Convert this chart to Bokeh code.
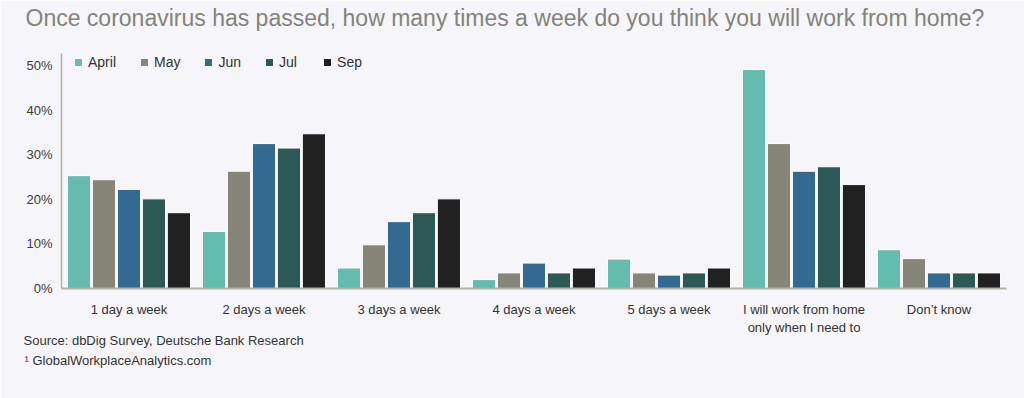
from bokeh.plotting import figure
from bokeh.models import (ColumnDataSource, Legend, LegendItem, Title, Range1d,
                          FixedTicker, PrintfTickFormatter, FactorRange, CategoricalAxis,
                          CustomJSTickFormatter)
from bokeh.transform import dodge
from bokeh.embed import file_html
from bokeh.resources import INLINE

categories = ["1 day a week", "2 days a week", "3 days a week", "4 days a week",
              "5 days a week", "I will work from home only when I need to", "Don\u2019t know"]
series_names = ["April", "May", "Jun", "Jul", "Sep"]
april = [25.3, 12.8, 4.6, 2.0, 6.6, 49.1, 8.7]
may = [24.4, 26.3, 9.8, 3.5, 3.5, 32.5, 6.7]
jun = [22.2, 32.5, 15.0, 5.7, 3.0, 26.3, 3.5]
jul = [20.1, 31.5, 17.0, 3.5, 3.5, 27.3, 3.5]
sep = [17.0, 34.7, 20.1, 4.6, 4.6, 23.3, 3.5]
colors = ["#65bcae", "#878578", "#346a92", "#2c5856", "#222122"]
y_ticks = [0, 10, 20, 30, 40, 50]
# tick labels: first line / second line for each category
label_line1 = ["1 day a week", "2 days a week", "3 days a week", "4 days a week",
               "5 days a week", "I will work from home", "Don\u2019t know"]
label_line2 = ["", "", "", "", "", "only when I need to", ""]

BG = "#f6f5f9"
FONT = "Liberation Sans"

src = ColumnDataSource(dict(cat=categories, April=april, May=may, Jun=jun, Jul=jul, Sep=sep))

p = figure(width=1024, height=398, x_range=FactorRange(*categories, range_padding=0),
           y_range=Range1d(0, 52.7), output_backend="svg", toolbar_location=None,
           min_border_left=61, min_border_right=18, min_border_top=53, min_border_bottom=110)
p.background_fill_color = BG
p.border_fill_color = BG
p.outline_line_color = None
p.xgrid.visible = False
p.ygrid.visible = False

pitch = 0.185
items = []
for j, (name, col) in enumerate(zip(series_names, colors)):
    r = p.vbar(x=dodge("cat", (j - 2) * pitch, range=p.x_range), top=name, width=0.172,
               source=src, fill_color=col, line_color="#ffffff", line_width=1)
    items.append(LegendItem(label=name, renderers=[r]))

legend = Legend(items=items, orientation="horizontal", location=(12, 218),
                padding=0, margin=0, spacing=23, label_standoff=5,
                glyph_width=10, glyph_height=10, label_height=14,
                label_text_font=FONT, label_text_font_size="14px", label_text_color="#333333",
                background_fill_alpha=0, border_line_color=None)
p.add_layout(legend, "center")

JS = "const i = keys.indexOf(tick); return i >= 0 ? vals[i] : tick;"

xa = p.xaxis[0]
xa.axis_line_color = "#b5b0a2"
xa.axis_line_width = 2
xa.major_tick_line_color = None
xa.minor_tick_line_color = None
xa.major_tick_out = 0
xa.major_tick_in = 0
xa.major_label_standoff = 13
xa.major_label_text_font = FONT
xa.major_label_text_font_size = "13px"
xa.major_label_text_color = "#333333"
xa.formatter = CustomJSTickFormatter(args=dict(keys=categories, vals=label_line1), code=JS)

xa2 = CategoricalAxis(axis_line_color=None, major_tick_line_color=None,
                      minor_tick_line_color=None, major_tick_out=0, major_tick_in=0,
                      major_label_standoff=0, major_label_text_font=FONT,
                      major_label_text_font_size="13px", major_label_text_color="#333333",
                      formatter=CustomJSTickFormatter(args=dict(keys=categories, vals=label_line2),
                                                      code=JS))
p.add_layout(xa2, "below")

ya = p.yaxis[0]
ya.ticker = FixedTicker(ticks=y_ticks)
ya.formatter = PrintfTickFormatter(format="%d%%")
ya.axis_line_color = "#b5b0a2"
ya.axis_line_width = 1.5
ya.major_tick_line_color = None
ya.minor_tick_line_color = None
ya.major_tick_out = 0
ya.major_tick_in = 0
ya.major_label_standoff = 9
ya.major_label_text_font = FONT
ya.major_label_text_font_size = "13px"
ya.major_label_text_color = "#3a3a3a"

# spacer between the frame and the title
p.add_layout(Title(text=" ", text_font_size="1px", standoff=20), "above")

p.title.text = "Once coronavirus has passed, how many times a week do you think you will work from home?"
p.title.align = "left"
p.title.offset = -36
p.title.standoff = 0
p.title.text_font = FONT
p.title.text_font_size = "23px"
p.title.text_font_style = "normal"
p.title.text_color = "#84837a"

p.add_layout(Title(text="Source: dbDig Survey, Deutsche Bank Research", align="left",
                   offset=-38, standoff=-13, text_font=FONT, text_font_size="13px",
                   text_font_style="normal", text_color="#333333"), "below")
p.add_layout(Title(text="\u00b9 GlobalWorkplaceAnalytics.com", align="left",
                   offset=-37, standoff=19, text_font=FONT, text_font_size="13px",
                   text_font_style="normal", text_color="#333333"), "below")

open("out.html", "w").write(file_html(p, INLINE))
